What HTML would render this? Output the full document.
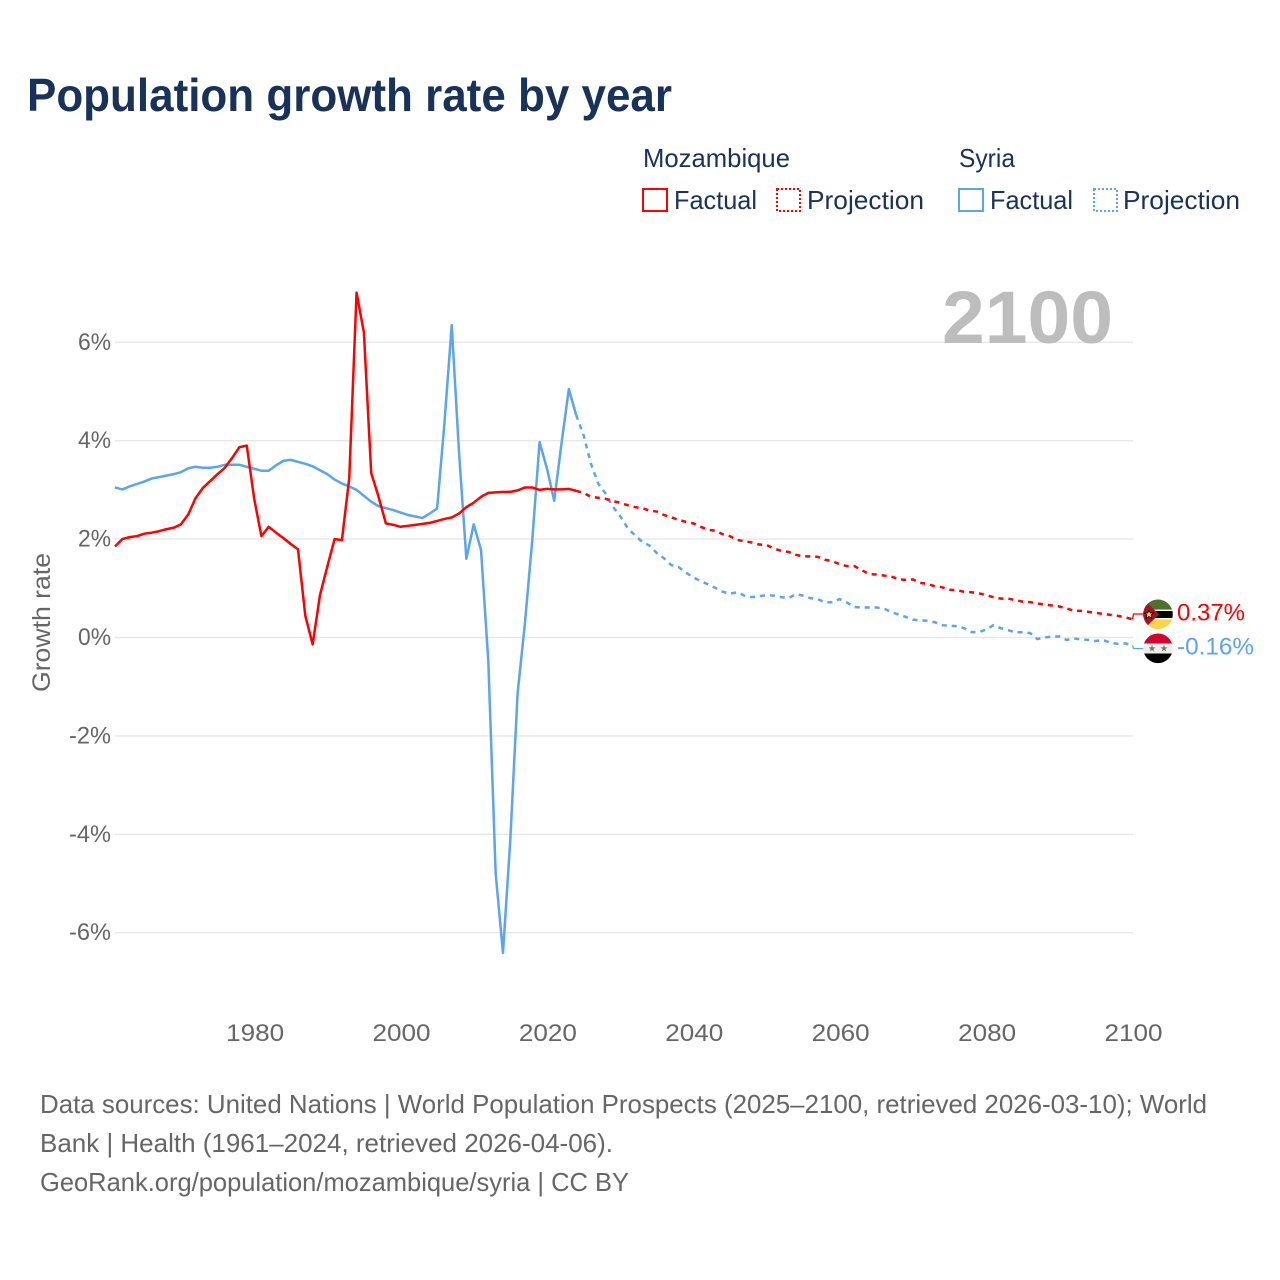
<!DOCTYPE html>
<html lang="en">
<head>
<meta charset="utf-8">
<title>Population growth rate by year</title>
<style>
html,body{margin:0;padding:0;background:#fff;}
svg{display:block;}
text{font-family:"Liberation Sans",sans-serif;}
</style>
</head>
<body>
<svg id="chart" width="1280" height="1280" viewBox="0 0 1280 1280" xmlns="http://www.w3.org/2000/svg">
  <defs>
    <clipPath id="clip-moz"><circle cx="1158" cy="614.3" r="14.8"/></clipPath>
    <clipPath id="clip-syr"><circle cx="1158" cy="648.3" r="14.8"/></clipPath>
  </defs>
  <rect width="1280" height="1280" fill="#fff"/>
  <text x="27" y="111" font-size="46" font-weight="700" fill="#18325a" textLength="645" lengthAdjust="spacingAndGlyphs">Population growth rate by year</text>

  <g font-size="26" fill="#18325a">
    <text x="643" y="167" textLength="147" lengthAdjust="spacingAndGlyphs">Mozambique</text>
    <text x="959" y="167" textLength="56" lengthAdjust="spacingAndGlyphs">Syria</text>
    <rect x="643" y="189" width="24" height="22" fill="none" stroke="#ff0000" stroke-width="2"/>
    <text x="674" y="209" textLength="83" lengthAdjust="spacingAndGlyphs">Factual</text>
    <rect x="777" y="189" width="23" height="22" fill="none" stroke="#ff0000" stroke-width="2" stroke-dasharray="2 2"/>
    <text x="807" y="209" textLength="117" lengthAdjust="spacingAndGlyphs">Projection</text>
    <rect x="959" y="189" width="24" height="22" fill="none" stroke="#5ba4ee" stroke-width="2"/>
    <text x="990" y="209" textLength="83" lengthAdjust="spacingAndGlyphs">Factual</text>
    <rect x="1094" y="189" width="23" height="22" fill="none" stroke="#5ba4ee" stroke-width="2" stroke-dasharray="2 2"/>
    <text x="1123" y="209" textLength="117" lengthAdjust="spacingAndGlyphs">Projection</text>
  </g>

  <g id="grid"></g>
  <g id="y-ticks"></g>
  <g id="x-ticks"></g>

  <text x="942" y="343" font-size="74" font-weight="700" fill="#bdbdbd" textLength="171" lengthAdjust="spacingAndGlyphs">2100</text>
  <text transform="translate(50,692) rotate(-90)" x="0" y="0" font-size="25" fill="#666" textLength="139" lengthAdjust="spacingAndGlyphs">Growth rate</text>

  <g id="series"></g>

  <g clip-path="url(#clip-moz)">
    <rect x="1143" y="599" width="30" height="31" fill="#fff"/>
    <rect x="1143" y="599" width="30" height="10.6" fill="#4f7030"/>
    <rect x="1143" y="611" width="30" height="7" fill="#000"/>
    <rect x="1143" y="619.4" width="30" height="11" fill="#fcd548"/>
    <polygon points="1143,599 1159,614.3 1143,630" fill="#a8102f"/>
    <polygon points="1149,610 1150.2,613 1153.5,613 1151,615 1152,618.4 1149,616.4 1146,618.4 1147,615 1144.5,613 1147.8,613" fill="#fcd548" stroke="#000" stroke-width="0.7"/>
  </g>
  <g clip-path="url(#clip-syr)">
    <rect x="1143" y="633" width="30" height="10.5" fill="#d6002e"/>
    <rect x="1143" y="643.5" width="30" height="10" fill="#eeeeee"/>
    <rect x="1143" y="653.5" width="30" height="10.5" fill="#000"/>
    <polygon points="1152,644.8 1152.9,647.4 1155.6,647.4 1153.4,649 1154.2,651.6 1152,650 1149.8,651.6 1150.6,649 1148.4,647.4 1151.1,647.4" fill="#64805a"/>
    <polygon points="1164,644.8 1164.9,647.4 1167.6,647.4 1165.4,649 1166.2,651.6 1164,650 1161.8,651.6 1162.6,649 1160.4,647.4 1163.1,647.4" fill="#64805a"/>
  </g>

  <g font-size="26" fill="#666">
    <text x="40" y="1113" textLength="1167" lengthAdjust="spacingAndGlyphs">Data sources: United Nations | World Population Prospects (2025–2100, retrieved 2026-03-10); World</text>
    <text x="40" y="1152" textLength="573" lengthAdjust="spacingAndGlyphs">Bank | Health (1961–2024, retrieved 2026-04-06).</text>
    <text x="40" y="1191" textLength="589" lengthAdjust="spacingAndGlyphs">GeoRank.org/population/mozambique/syria | CC BY</text>
  </g>
</svg>

<script>
const factualStartYear = 1961;
const projectionStartYear = 2024;
const yTickValues = [-6, -4, -2, 0, 2, 4, 6];
const xTickYears = [1980, 2000, 2020, 2040, 2060, 2080, 2100];
const mozambiqueFactual = [
  1.85,2.0,2.04,2.06,2.11,2.13,2.16,2.2,2.23,2.3,
  2.5,2.83,3.04,3.18,3.32,3.45,3.65,3.87,3.9,2.83,
  2.06,2.25,2.13,2.02,1.9,1.79,0.44,-0.14,0.86,1.44,
  2.0,1.98,3.24,7.01,6.2,3.34,2.86,2.32,2.29,2.25,
  2.27,2.29,2.31,2.33,2.37,2.41,2.44,2.52,2.65,2.74,
  2.86,2.94,2.95,2.96,2.96,2.99,3.05,3.05,3.0,3.02,
  3.01,3.01,3.02,2.98
];
const mozambiqueProjection = [
  2.98,2.94,2.86,2.84,2.82,2.77,
  2.74,2.69,2.65,2.63,2.58,2.56,2.49,2.44,2.39,2.35,
  2.32,2.25,2.19,2.17,2.10,2.06,1.98,1.96,1.93,1.89,
  1.88,1.81,1.76,1.74,1.68,1.65,1.65,1.64,1.58,1.55,
  1.49,1.45,1.45,1.37,1.29,1.28,1.26,1.24,1.19,1.17,
  1.18,1.11,1.09,1.04,1.02,0.97,0.96,0.93,0.92,0.9,
  0.86,0.82,0.79,0.79,0.76,0.73,0.72,0.69,0.67,0.65,
  0.63,0.59,0.54,0.54,0.52,0.50,0.48,0.46,0.44,0.41,
  0.37
];
const syriaFactual = [
  3.05,3.01,3.07,3.12,3.17,3.23,3.26,3.29,3.32,3.36,
  3.44,3.47,3.45,3.45,3.47,3.51,3.51,3.51,3.47,3.43,
  3.39,3.39,3.5,3.59,3.61,3.57,3.53,3.48,3.40,3.32,
  3.21,3.13,3.07,3.0,2.88,2.76,2.67,2.63,2.59,2.54,
  2.49,2.46,2.43,2.52,2.62,4.35,6.35,3.75,1.6,2.3,
  1.78,-0.49,-4.79,-6.41,-4.12,-1.13,0.29,1.98,3.97,3.44,
  2.78,3.95,5.05,4.52
];
const syriaProjection = [
  4.52,4.12,3.54,3.13,2.93,2.66,
  2.47,2.23,2.08,1.95,1.87,1.72,1.61,1.47,1.43,1.32,
  1.22,1.15,1.08,1.01,0.93,0.89,0.92,0.85,0.82,0.84,
  0.86,0.85,0.82,0.80,0.88,0.85,0.80,0.78,0.71,0.72,
  0.78,0.71,0.62,0.61,0.61,0.61,0.59,0.52,0.47,0.42,
  0.36,0.35,0.34,0.31,0.25,0.24,0.23,0.19,0.11,0.11,
  0.16,0.25,0.19,0.15,0.1,0.11,0.09,-0.03,0.0,0.02,
  0.02,-0.05,-0.02,-0.04,-0.05,-0.07,-0.05,-0.11,-0.13,-0.12,
  -0.16
];

const NS = 'http://www.w3.org/2000/svg';
const RED = '#ff0000';
const BLUE = '#5ba4ee';
const xOf = y => 115 + (y - 1961) * (1132.5 - 115) / 139;
const yOf = v => 637.5 - v * 49.2;
const gridG = document.getElementById('grid');
const yG = document.getElementById('y-ticks');
const xG = document.getElementById('x-ticks');
const seriesG = document.getElementById('series');

yTickValues.forEach(v => {
  const line = document.createElementNS(NS, 'line');
  
  
  line.setAttribute('x1', 115);
  line.setAttribute('x2', 1133);
  line.setAttribute('y1', yOf(v));
  line.setAttribute('y2', yOf(v));
  line.setAttribute('stroke', '#e8e8e8');
  line.setAttribute('stroke-width', '1.4');
  gridG.appendChild(line);
  const t = document.createElementNS(NS, 'text');
  
  
  t.setAttribute('x', 111);
  t.setAttribute('y', yOf(v) + 7.5);
  t.setAttribute('text-anchor', 'end');
  t.setAttribute('font-size', '24');
  t.setAttribute('fill', '#666');
  t.setAttribute('textLength', v < 0 ? 42 : 33);
  t.setAttribute('lengthAdjust', 'spacingAndGlyphs');
  t.textContent = v + '%';
  yG.appendChild(t);
});

xTickYears.forEach(yr => {
  const t = document.createElementNS(NS, 'text');
  
  
  t.setAttribute('x', xOf(yr) + 1);
  t.setAttribute('y', 1041);
  t.setAttribute('text-anchor', 'middle');
  t.setAttribute('font-size', '24');
  t.setAttribute('fill', '#666');
  t.setAttribute('textLength', 58);
  t.setAttribute('lengthAdjust', 'spacingAndGlyphs');
  t.textContent = yr;
  xG.appendChild(t);
});

function pathFrom(values, startYear) {
  return values.map((v, i) => (i ? 'L' : 'M') + xOf(startYear + i).toFixed(2) + ' ' + yOf(v).toFixed(2)).join('');
}

const factualRed = document.createElementNS(NS, 'path');


factualRed.setAttribute('d', pathFrom(mozambiqueFactual, factualStartYear));
factualRed.setAttribute('fill', 'none');
factualRed.setAttribute('stroke', RED);
factualRed.setAttribute('stroke-width', '2.5');
factualRed.setAttribute('stroke-linejoin', 'round');

const factualBlue = document.createElementNS(NS, 'path');


factualBlue.setAttribute('d', pathFrom(syriaFactual, factualStartYear));
factualBlue.setAttribute('fill', 'none');
factualBlue.setAttribute('stroke', BLUE);
factualBlue.setAttribute('stroke-width', '2.5');
factualBlue.setAttribute('stroke-linejoin', 'round');

const projectionBlue = document.createElementNS(NS, 'path');


projectionBlue.setAttribute('d', pathFrom(syriaProjection, projectionStartYear));
projectionBlue.setAttribute('fill', 'none');
projectionBlue.setAttribute('stroke', BLUE);
projectionBlue.setAttribute('stroke-width', '2.5');
projectionBlue.setAttribute('stroke-dasharray', '5 5');

const projectionRed = document.createElementNS(NS, 'path');


projectionRed.setAttribute('d', pathFrom(mozambiqueProjection, projectionStartYear));
projectionRed.setAttribute('fill', 'none');
projectionRed.setAttribute('stroke', RED);
projectionRed.setAttribute('stroke-width', '2.5');
projectionRed.setAttribute('stroke-dasharray', '5 5');

seriesG.appendChild(factualBlue);
seriesG.appendChild(factualRed);
seriesG.appendChild(projectionBlue);
seriesG.appendChild(projectionRed);

const lastRed = mozambiqueProjection[mozambiqueProjection.length - 1];
const lastBlue = syriaProjection[syriaProjection.length - 1];

const connRed = document.createElementNS(NS, 'path');


connRed.setAttribute('d', 'M' + xOf(2100) + ' ' + yOf(lastRed) + 'L' + (xOf(2100) + 1) + ' 614L1146 614');
connRed.setAttribute('fill', 'none');
connRed.setAttribute('stroke', RED);
connRed.setAttribute('stroke-width', '1.3');
seriesG.appendChild(connRed);

const connBlue = document.createElementNS(NS, 'path');


connBlue.setAttribute('d', 'M' + xOf(2100) + ' ' + yOf(lastBlue) + 'L' + (xOf(2100) + 1) + ' 648.5L1146 648.5');
connBlue.setAttribute('fill', 'none');
connBlue.setAttribute('stroke', BLUE);
connBlue.setAttribute('stroke-width', '1.3');
seriesG.appendChild(connBlue);

const labelRed = document.createElementNS(NS, 'text');


labelRed.setAttribute('x', 1177);
labelRed.setAttribute('y', 620.5);
labelRed.setAttribute('font-size', '24');
labelRed.setAttribute('fill', RED);
labelRed.setAttribute('textLength', 68);
labelRed.setAttribute('lengthAdjust', 'spacingAndGlyphs');
labelRed.textContent = lastRed.toFixed(2) + '%';
seriesG.appendChild(labelRed);

const labelBlue = document.createElementNS(NS, 'text');


labelBlue.setAttribute('x', 1177);
labelBlue.setAttribute('y', 654.5);
labelBlue.setAttribute('font-size', '24');
labelBlue.setAttribute('fill', BLUE);
labelBlue.setAttribute('textLength', 77);
labelBlue.setAttribute('lengthAdjust', 'spacingAndGlyphs');
labelBlue.textContent = lastBlue.toFixed(2) + '%';
seriesG.appendChild(labelBlue);
</script>
</body>
</html>
